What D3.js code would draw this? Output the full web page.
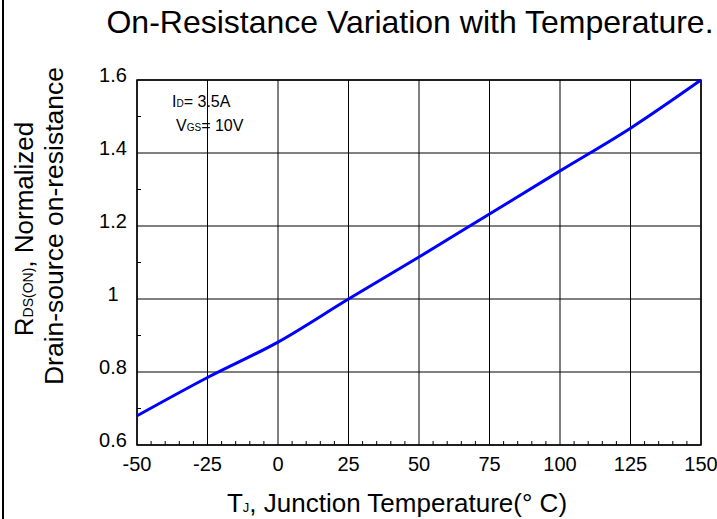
<!DOCTYPE html>
<html>
<head>
<meta charset="utf-8">
<script src="https://cdn.jsdelivr.net/npm/d3@7"></script>
<style>
  body { margin: 0; background: #fff; }
  svg { display: block; font-family: Arial, "Liberation Sans", sans-serif; }
</style>
</head>
<body>
<svg id="chart" width="717" height="519"></svg>
<script>
// curve
const temps = [-50, -25, 0, 25, 50, 75, 100, 125, 150]
const rdsNorm = [0.68, 0.785, 0.882, 1.0, 1.115, 1.233, 1.351, 1.468, 1.6]

const xTicks = [-50, -25, 0, 25, 50, 75, 100, 125, 150]
const yTicks = [0.6, 0.8, 1.0, 1.2, 1.4, 1.6]

const svg = d3.select("#chart")
const plotL = 137, plotR = 701, plotT = 80, plotB = 445

const x = d3.scaleLinear().domain([-50, 150]).range([plotL, plotR])
const y = d3.scaleLinear().domain([0.6, 1.6]).range([plotB, plotT])

// left frame line of the page
svg.append("line")
  .attr("x1", 3).attr("x2", 3).attr("y1", 0).attr("y2", 519)
  .attr("stroke", "#000").attr("stroke-width", 2)

// title
svg.append("text")
  .attr("x", 410).attr("y", 33)
  .attr("text-anchor", "middle")
  .attr("font-size", 32)
  .text("On-Resistance Variation with Temperature.")

// grid
svg.append("g").selectAll("line").data(xTicks).join("line")
  .attr("x1", d => x(d)).attr("x2", d => x(d))
  .attr("y1", plotT).attr("y2", plotB)
  .attr("stroke", "#000").attr("stroke-width", 1)
svg.append("g").selectAll("line").data(yTicks).join("line")
  .attr("x1", plotL).attr("x2", plotR)
  .attr("y1", d => y(d)).attr("y2", d => y(d))
  .attr("stroke", "#000").attr("stroke-width", 1)

// minor ticks, pointing inward
const xMinor = d3.range(-50, 151, 5).filter(d => d % 25 !== 0)
svg.append("g").selectAll("line").data(xMinor).join("line")
  .attr("x1", d => x(d)).attr("x2", d => x(d))
  .attr("y1", plotB).attr("y2", plotB - 4)
  .attr("stroke", "#000")
const yMinor = [0.7, 0.9, 1.1, 1.3, 1.5]
svg.append("g").selectAll("line").data(yMinor).join("line")
  .attr("x1", plotL).attr("x2", plotL + 4)
  .attr("y1", d => y(d)).attr("y2", d => y(d))
  .attr("stroke", "#000")

// frame
svg.append("rect")
  .attr("x", plotL).attr("y", plotT)
  .attr("width", plotR - plotL).attr("height", plotB - plotT)
  .attr("fill", "none").attr("stroke", "#000").attr("stroke-width", 1.5)

// tick labels
svg.append("g").selectAll("text").data(xTicks).join("text")
  .attr("x", d => x(d)).attr("y", 471)
  .attr("text-anchor", "middle")
  .attr("font-size", 20)
  .text(d => d)
svg.append("g").selectAll("text").data(yTicks).join("text")
  .attr("x", 113).attr("y", d => y(d) + 2)
  .attr("text-anchor", "middle")
  .attr("font-size", 20)
  .text(d => d3.format("~g")(d))

// curve
svg.append("path")
  .datum(temps.map((t, i) => [t, rdsNorm[i]]))
  .attr("fill", "none")
  .attr("stroke", "#0000ff")
  .attr("stroke-width", 3)
  .attr("d", d3.line().x(d => x(d[0])).y(d => y(d[1])).curve(d3.curveMonotoneX))

// conditions
const cond = svg.append("g").attr("font-size", 16)
const c1 = cond.append("text").attr("x", 172).attr("y", 107)
c1.append("tspan").text("I")
c1.append("tspan").attr("font-size", 10).text("D")
c1.append("tspan").text("= 3.5A")
const c2 = cond.append("text").attr("x", 176).attr("y", 131)
c2.append("tspan").text("V")
c2.append("tspan").attr("font-size", 10).text("GS")
c2.append("tspan").text("= 10V")

// x axis title
const xt = svg.append("text")
  .attr("x", 397).attr("y", 512)
  .attr("text-anchor", "middle")
  .attr("font-size", 26)
xt.append("tspan").text("T")
xt.append("tspan").attr("font-size", 13).text("J")
xt.append("tspan").text(", Junction Temperature(° C)")

// y axis title, two lines
const yt1 = svg.append("text")
  .attr("transform", "translate(33,229) rotate(-90)")
  .attr("text-anchor", "middle")
  .attr("font-size", 26)
yt1.append("tspan").text("R")
yt1.append("tspan").attr("font-size", 14).text("DS(ON)")
yt1.append("tspan").text(", Normalized")
svg.append("text")
  .attr("transform", "translate(63,226) rotate(-90)")
  .attr("text-anchor", "middle")
  .attr("font-size", 26.5)
  .text("Drain-source on-resistance")
</script>
</body>
</html>
